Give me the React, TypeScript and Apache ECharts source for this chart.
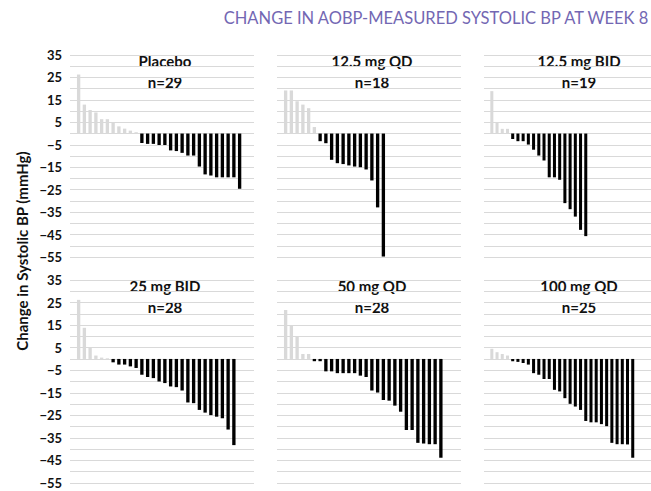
import React, { useEffect, useRef } from "react";
import * as echarts from "echarts";

const TITLE = "CHANGE IN AOBP-MEASURED SYSTOLIC BP AT WEEK 8";
const Y_TITLE = "Change in Systolic BP (mmHg)";
const SLOTS = 32;
const categories = Array.from({ length: SLOTS }, (_, i) => String(i));

const panelNames = ["Placebo", "12.5 mg QD", "12.5 mg BID", "25 mg BID", "50 mg QD", "100 mg QD"];
const panelN = ["n=29", "n=18", "n=19", "n=28", "n=28", "n=25"];

const placebo = [26.3, 12.9, 10.5, 9.4, 6.4, 6.4, 5.1, 3.2, 2.2, 1.3, 0.6, -4.2, -4.6, -4.6, -5.1, -5.1, -7.5, -7.8, -8.6, -9.8, -9.8, -14.7, -18.2, -18.7, -19.5, -19.5, -19.5, -19.5, -24.6];
const qd125 = [19.2, 19.2, 14.4, 12.9, 11.3, 2.9, -3.4, -4.3, -11.7, -13.2, -13.6, -14.2, -14.7, -15.0, -16.0, -20.9, -32.9, -54.8];
const bid125 = [18.9, 5.1, 2.1, 2.1, -2.4, -3.4, -3.4, -4.9, -7.2, -9.8, -12.0, -19.5, -19.5, -20.6, -31.0, -33.7, -37.0, -42.9, -45.7];
const bid25 = [26.2, 13.8, 4.9, 1.5, 0.6, 0.3, -1.5, -2.5, -2.5, -3.3, -4.0, -7.0, -8.0, -8.5, -10.0, -10.7, -12.2, -12.5, -14.0, -19.3, -19.6, -22.6, -23.8, -24.9, -25.6, -26.3, -31.3, -38.2];
const qd50 = [21.7, 15.0, 10.1, 2.2, 2.2, -1.0, -1.0, -5.5, -5.5, -6.3, -6.3, -6.3, -6.3, -7.4, -8.0, -14.0, -14.9, -18.2, -18.5, -20.7, -23.4, -31.5, -31.5, -37.2, -37.5, -37.8, -37.8, -43.8];
const qd100 = [4.5, 3.0, 2.2, 1.5, -1.0, -1.3, -1.8, -2.5, -6.3, -7.0, -8.9, -8.9, -13.7, -14.4, -17.4, -19.9, -21.1, -22.6, -27.5, -28.1, -28.1, -28.9, -29.8, -37.2, -37.8, -37.8, -37.9, -43.8];
const panelValues = [placebo, qd125, bid125, bid25, qd50, qd100];

const Y_MIN = -55;
const Y_MAX = 35;
const Y_STEP = 5;

const FONT = "Lato, 'Open Sans', sans-serif";
const GREY = "#d9d9d9";
const BLACK = "#000000";

const COL_LEFT = [70, 277, 484];
const COL_W = 184;
const ROW_TOP = [55, 280];
const ROW_H = [202, 203];
const NAME_Y = [61, 286];
const N_Y = [82, 307];

export default function App() {
  const ref = useRef<HTMLDivElement>(null);
  useEffect(() => {
    document.body.style.margin = "0";
    document.body.style.overflow = "hidden";
    const chart = echarts.init(ref.current!, null, { renderer: "svg" });
    const grids: any[] = [];
    const xAxes: any[] = [];
    const yAxes: any[] = [];
    const series: any[] = [];
    const graphics: any[] = [];
    panelValues.forEach((vals, i) => {
      const r = Math.floor(i / 3);
      const c = i % 3;
      grids.push({ left: COL_LEFT[c], top: ROW_TOP[r], width: COL_W, height: ROW_H[r], containLabel: false });
      xAxes.push({
        type: "category",
        gridIndex: i,
        data: categories,
        show: false,
      });
      yAxes.push({
        type: "value",
        gridIndex: i,
        min: Y_MIN,
        max: Y_MAX,
        interval: Y_STEP,
        axisLine: { show: false },
        axisTick: { show: false },
        splitLine: { show: true, lineStyle: { color: GREY, width: 1 } },
        axisLabel: {
          show: c === 0,
          margin: 8,
          fontFamily: FONT,
          fontWeight: "bold",
          fontSize: 13,
          color: "#111",
          formatter: (v: number) =>
            Math.abs(v % 10) === 5 ? String(v).replace("-", "\u2212") : "",
        },
      });
      series.push({
        type: "bar",
        xAxisIndex: i,
        yAxisIndex: i,
        barWidth: "58%",
        data: ["-", ...vals],
        itemStyle: {
          color: (p: any) => (p.value > 0 ? GREY : BLACK),
        },
      });
      const cx = COL_LEFT[c] + COL_W / 2 + 3;
      graphics.push({
        type: "text",
        x: cx,
        y: NAME_Y[r],
        style: {
          text: panelNames[i],
          fontFamily: FONT,
          fontWeight: "bold",
          fontSize: 15,
          fill: "#111",
          textAlign: "center",
          textVerticalAlign: "middle",
        },
      });
      graphics.push({
        type: "text",
        x: cx,
        y: N_Y[r],
        style: {
          text: panelN[i],
          fontFamily: FONT,
          fontWeight: "bold",
          fontSize: 15,
          fill: "#111",
          textAlign: "center",
          textVerticalAlign: "middle",
        },
      });
    });
    graphics.push({
      type: "text",
      x: 436,
      y: 18,
      style: {
        text: TITLE,
        fontFamily: FONT,
        fontSize: 16.5,
        fill: "#7367b3",
        textAlign: "center",
        textVerticalAlign: "middle",
      },
    });
    graphics.push({
      type: "text",
      x: 22,
      y: 251,
      rotation: Math.PI / 2,
      style: {
        text: Y_TITLE,
        fontFamily: FONT,
        fontWeight: "bold",
        fontSize: 15,
        fill: "#111",
        textAlign: "center",
        textVerticalAlign: "middle",
      },
    });
    chart.setOption({
      animation: false,
      backgroundColor: "#ffffff",
      grid: grids,
      xAxis: xAxes,
      yAxis: yAxes,
      series,
      graphic: graphics,
    });
    return () => chart.dispose();
  }, []);
  return <div ref={ref} style={{ width: 651, height: 491 }} />;
}
